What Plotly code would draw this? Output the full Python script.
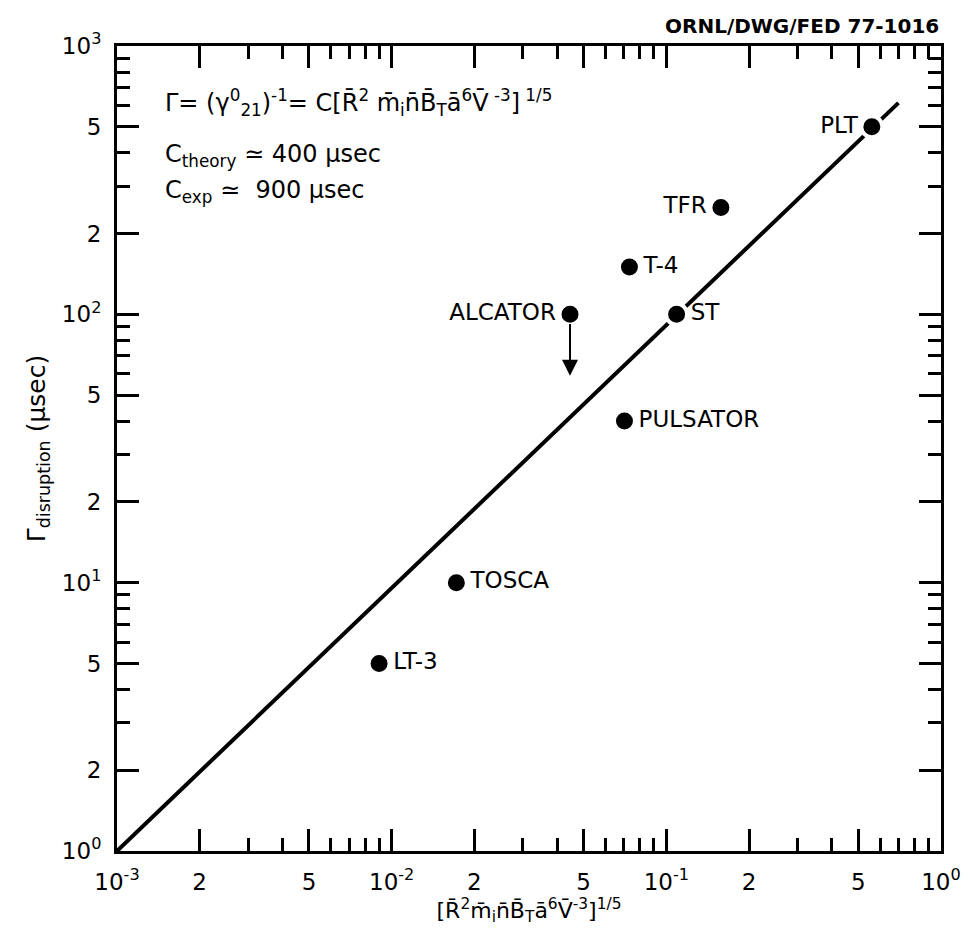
import math
import plotly.graph_objects as go

# ---- data ----
names = ["PLT", "TFR", "T-4", "ALCATOR", "ST", "PULSATOR", "TOSCA", "LT-3"]
x_vals = [0.56, 0.158, 0.0734, 0.0446, 0.109, 0.0704, 0.0172, 0.0090]
y_vals = [500, 250, 150, 100, 100, 40, 10, 5]
label_pos = ["middle left", "middle left", "middle right", "middle left",
             "middle right", "middle right", "middle right", "middle right"]

# fitted scaling line
line_x = [0.001, 0.70]
line_y = [1.0, 614.0]

# ALCATOR upper-limit arrow (from point down to tip)
arrow_x = 0.0446
arrow_from_y = 100
arrow_to_y = 59

x_major = [1e-3, 2e-3, 5e-3, 1e-2, 2e-2, 5e-2, 1e-1, 2e-1, 5e-1, 1e0]
x_major_text = ["10<sup>-3</sup>", "2", "5", "10<sup>-2</sup>", "2", "5",
                "10<sup>-1</sup>", "2", "5", "10<sup>0</sup>"]
y_major = [1, 2, 5, 10, 20, 50, 100, 200, 500, 1000]
y_major_text = ["10<sup>0</sup>", "2", "5", "10<sup>1</sup>", "2", "5",
                "10<sup>2</sup>", "2", "5", "10<sup>3</sup>"]
mult_minor = [3, 4, 6, 7, 8, 9]
x_minor = [m * 10 ** e for e in (-3, -2, -1) for m in mult_minor]
y_minor = [m * 10 ** e for e in (0, 1, 2) for m in mult_minor]

FONT = "DejaVu Sans"

fig = go.Figure()
fig.add_trace(go.Scatter(x=line_x, y=line_y, mode="lines",
                         line=dict(color="black", width=4), hoverinfo="skip"))
fig.add_trace(go.Scatter(
    x=x_vals, y=y_vals, mode="markers+text", text=names,
    textposition=label_pos,
    textfont=dict(family=FONT, size=23, color="black"),
    marker=dict(color="black", size=21, line=dict(color="white", width=4)),
))

fig.add_annotation(
    x=math.log10(arrow_x), y=math.log10(arrow_to_y),
    ax=math.log10(arrow_x), ay=math.log10(arrow_from_y) - 0.03,
    xref="x", yref="y", axref="x", ayref="y",
    showarrow=True, arrowhead=2, arrowsize=1.6, arrowwidth=2, arrowcolor="black",
    text="",
)

ann_font = dict(family=FONT, size=24, color="black")
fig.add_annotation(xref="paper", yref="paper", x=0.056, y=0.930,
                   xanchor="left", yanchor="middle", showarrow=False, font=ann_font,
                   text="Γ= (γ<sup>0</sup><sub>21</sub>)<sup>-1</sup>= C[R\u0304<sup>2</sup> m\u0304<sub>i</sub>n\u0304B\u0304<sub>T</sub>a\u0304<sup>6</sup>V\u0304<sup> -3</sup>]<sup> 1/5</sup>")
fig.add_annotation(xref="paper", yref="paper", x=0.056, y=0.864,
                   xanchor="left", yanchor="middle", showarrow=False, font=ann_font,
                   text="C<sub>theory</sub> ≃ 400 μsec")
fig.add_annotation(xref="paper", yref="paper", x=0.056, y=0.819,
                   xanchor="left", yanchor="middle", showarrow=False, font=ann_font,
                   text="C<sub>exp</sub> ≃  900 μsec")
fig.add_annotation(xref="paper", yref="paper", x=1.0, y=1.0,
                   xanchor="right", yanchor="bottom", yshift=6, showarrow=False,
                   font=dict(family=FONT, size=20, color="black"),
                   text="<b>ORNL/DWG/FED 77-1016</b>")

axis_common = dict(
    type="log", showgrid=False, zeroline=False,
    showline=True, linecolor="black", linewidth=3, mirror="ticks",
    ticks="inside", ticklen=22, tickwidth=3, tickcolor="black",
    tickmode="array",
    tickfont=dict(family=FONT, size=23, color="black"),
)

fig.update_xaxes(**axis_common, range=[-3, 0], tickvals=x_major, ticktext=x_major_text,
                 ticklabelstandoff=8,
                 minor=dict(tickmode="array", tickvals=x_minor, ticks="inside",
                            ticklen=13, tickwidth=3, tickcolor="black", showgrid=False),
                 title=dict(text="[R\u0304<sup>2</sup>m\u0304<sub>i</sub>n\u0304B\u0304<sub>T</sub>a\u0304<sup>6</sup>V\u0304<sup>-3</sup>]<sup>1/5</sup>",
                            font=dict(family=FONT, size=22, color="black"), standoff=4))
fig.update_yaxes(**axis_common, range=[0, 3], tickvals=y_major, ticktext=y_major_text,
                 ticklabelstandoff=8,
                 minor=dict(tickmode="array", tickvals=y_minor, ticks="inside",
                            ticklen=13, tickwidth=3, tickcolor="black", showgrid=False),
                 title=dict(text="Γ<sub>disruption</sub> (μsec)",
                            font=dict(family=FONT, size=25, color="black"), standoff=10))

fig.update_layout(
    width=973, height=943,
    margin=dict(l=117, r=28, t=46, b=92),
    paper_bgcolor="white", plot_bgcolor="white",
    showlegend=False,
)

fig.write_html("out.html", config={"displayModeBar": False},
               post_script="document.body.style.margin='0';document.body.style.overflow='hidden';")
